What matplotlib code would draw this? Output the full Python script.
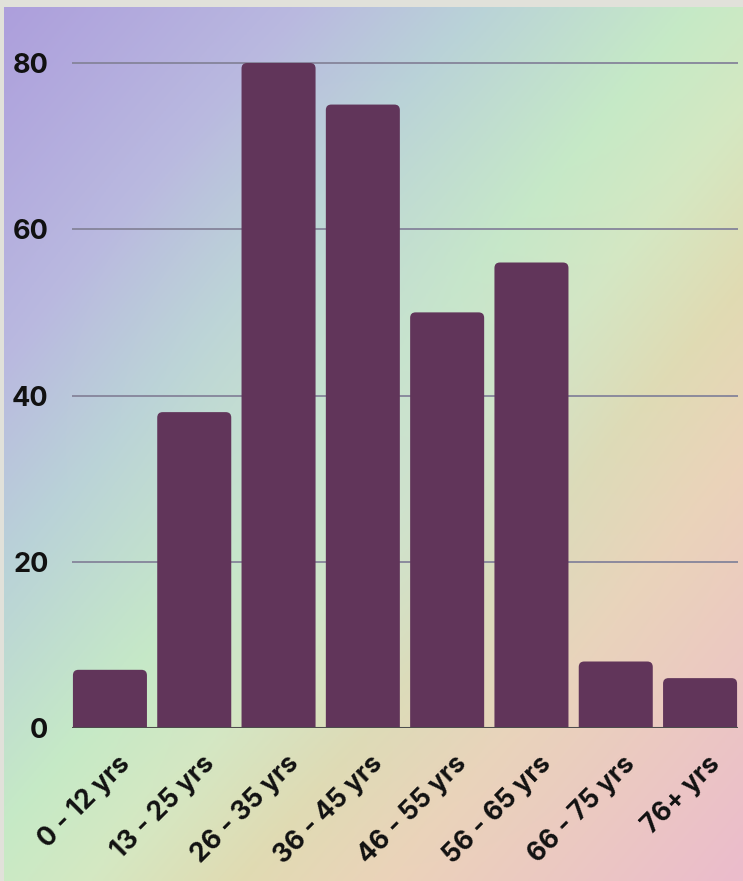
import matplotlib.pyplot as plt
import matplotlib.transforms as mtransforms
from matplotlib.colors import LinearSegmentedColormap, to_rgb
from matplotlib.patches import FancyBboxPatch
import numpy as np

# ---- data ----
age_groups = ["0 - 12 yrs", "13 - 25 yrs", "26 - 35 yrs", "36 - 45 yrs",
              "46 - 55 yrs", "56 - 65 yrs", "66 - 75 yrs", "76+ yrs"]
counts = [7, 38, 80, 75, 50, 56, 8, 6]
y_ticks = [0, 20, 40, 60, 80]

plt.rcParams['font.family'] = ['Inter', 'DejaVu Sans']

W, H = 743, 881
fig = plt.figure(figsize=(W / 100, H / 100), dpi=100)
fig.patch.set_facecolor('#e1e1da')

# background gradient (diagonal, top-left -> bottom-right)
bg = fig.add_axes([4 / W, 0, 1 - 4 / W, 1 - 7 / H])
bg.set_axis_off()
stops = [(0.0, '#ad9fdc'), (0.2, '#b9b8e0'), (0.32, '#b9d2d8'),
         (0.47, '#c6eac6'), (0.56, '#d5e8c2'), (0.66, '#e1dbb2'),
         (0.76, '#ecd3b9'), (1.0, '#ecbccc')]
cmap = LinearSegmentedColormap.from_list('bg', stops)
xx, yy = np.meshgrid(np.linspace(0, 1, 300), np.linspace(0, 1, 300))
img = cmap((xx + yy) / 2)[..., :3]
# soften the green band in the middle
r2 = (xx - 0.5) ** 2 + (yy - 0.5) ** 2
w = 0.55 * np.exp(-r2 / 0.08)
mid = np.array(to_rgb('#c9dcd6'))
img = img * (1 - w[..., None]) + mid * w[..., None]
bg.imshow(img, aspect='auto', extent=[0, 1, 1, 0], interpolation='bilinear')
bg.set_xlim(0, 1)
bg.set_ylim(1, 0)

# main axes
px_per_unit = 8.3125
ymax = 86
ax = fig.add_axes([72 / W, (H - 728) / H, 666 / W, ymax * px_per_unit / H])
ax.patch.set_alpha(0)
ax.set_xlim(-0.45, 7.45)
ax.set_ylim(0, ymax)

x = np.arange(len(counts))
width = 0.878
rx = 0.065
aspect = 84.3 / px_per_unit
for xi, v in zip(x, counts):
    bar = FancyBboxPatch((xi - width / 2, -2), width, v + 2,
                         boxstyle="round,pad=0,rounding_size=%f" % rx,
                         mutation_aspect=aspect, facecolor='#61355a',
                         edgecolor='none', zorder=3)
    ax.add_patch(bar)

for t in y_ticks[1:]:
    ax.axhline(t, color='#85849a', lw=1.3, zorder=1)
ax.axhline(0, color='#4d4d4d', lw=2.2, zorder=4)

for s in ax.spines.values():
    s.set_visible(False)
ax.set_yticks(y_ticks)
ax.set_yticklabels([str(t) for t in y_ticks], fontsize=19.5, fontweight='bold',
                   color='#111111')
ax.tick_params(axis='y', length=0, pad=17)
ax.set_xticks(x)
ax.set_xticklabels(age_groups, rotation=45, ha='right', va='center',
                   rotation_mode='anchor', fontsize=19, fontweight='bold',
                   color='#111111')
ax.tick_params(axis='x', length=0, pad=23)
offset = mtransforms.ScaledTranslation(16 / 100, 0, fig.dpi_scale_trans)
for lab in ax.get_xticklabels():
    lab.set_transform(lab.get_transform() + offset)

fig.savefig('out.png', dpi=100)
